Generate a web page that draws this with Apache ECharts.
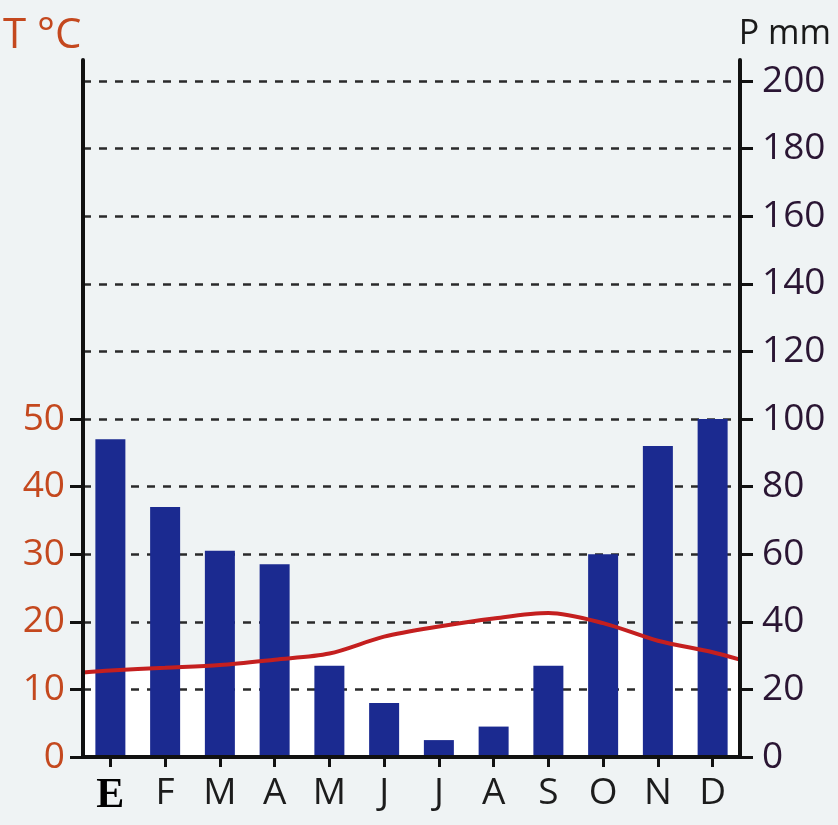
<!DOCTYPE html>
<html><head><meta charset="utf-8">
<script src="https://cdn.jsdelivr.net/npm/echarts@6/dist/echarts.min.js"></script>
<style>html,body{margin:0;padding:0;background:#eff3f4}#c{width:838px;height:825px}</style>
</head><body><div id="c"></div>
<script>
const months = ['E','F','M','A','M','J','J','A','S','O','N','D'];
const precipitation = [94, 74, 61, 57, 27, 16, 5, 9, 27, 60, 92, 100];
const temperature = [12.8, 13.2, 13.6, 14.4, 15.3, 17.8, 19.3, 20.5, 21.3, 19.8, 17.2, 15.5];
const tempEdges = [12.5, 14.4]; // line value read at left and right plot edges
const tempMax = 50;
const precipMax = 200;

const tempLineData = [[-0.5, tempEdges[0]]]
  .concat(temperature.map((v, i) => [i, v]))
  .concat([[11.5, tempEdges[1]]]);

// layout: shared bottom, stacked grids so axis ranges align (50 °C = 100 mm)
const BOTTOM = 68, LEFT = 83, RIGHT = 98;
const TOP_P = 81;
const H_P = 825 - BOTTOM - TOP_P;
const TOP_T = 825 - BOTTOM - H_P / 2;
const TOP_AX = 60;

const FONT = '"Open Sans", "Noto Sans", sans-serif';
const chart = echarts.init(document.getElementById('c'));
chart.setOption({
  backgroundColor: '#eff3f4',
  animation: false,
  title: [
    {text: 'T °C', left: -2, top: 10, textStyle: {fontFamily: FONT, fontSize: 42, fontWeight: 'normal', color: '#c4481e'}},
    {text: 'P mm', right: 2, top: 12, textStyle: {fontFamily: FONT, fontSize: 34, fontWeight: 'normal', color: '#1a1a1a'}}
  ],
  grid: [
    {left: LEFT, right: RIGHT, top: TOP_AX, bottom: BOTTOM},
    {left: LEFT, right: RIGHT, top: TOP_P, bottom: BOTTOM},
    {left: LEFT, right: RIGHT, top: TOP_T, bottom: BOTTOM}
  ],
  xAxis: [
    {gridIndex: 0, type: 'value', show: false},
    {
      gridIndex: 1, type: 'category', data: months, z: 4,
      axisLine: {lineStyle: {color: '#111', width: 4}},
      axisTick: {show: true, alignWithLabel: true, length: 10, lineStyle: {color: '#111', width: 3}},
      axisLabel: {
        interval: 0, margin: 18, fontFamily: FONT, fontSize: 37, color: '#1c1c1c',
        formatter: (v, i) => i === 0 ? '{e|' + v + '}' : v,
        rich: {e: {fontFamily: '"Liberation Serif", "DejaVu Serif", serif', fontWeight: 'bold', fontSize: 42, color: '#000'}}
      }
    },
    {gridIndex: 2, type: 'value', min: -0.5, max: 11.5, show: false}
  ],
  yAxis: [
    {gridIndex: 0, type: 'value', position: 'left', min: 0, max: 1, z: 4,
     axisLine: {show: true, onZero: false, lineStyle: {color: '#111', width: 4}}, axisTick: {show: false}, axisLabel: {show: false}, splitLine: {show: false}},
    {gridIndex: 0, type: 'value', position: 'right', min: 0, max: 1, z: 4,
     axisLine: {show: true, onZero: false, lineStyle: {color: '#111', width: 4}}, axisTick: {show: false}, axisLabel: {show: false}, splitLine: {show: false}},
    {
      gridIndex: 1, type: 'value', position: 'right', min: 0, max: precipMax, interval: 20, z: 1,
      axisLine: {show: true, onZero: false, lineStyle: {color: '#111', width: 4}},
      axisTick: {show: true, length: 13, lineStyle: {color: '#111', width: 3}},
      axisLabel: {margin: 22, fontFamily: FONT, fontSize: 37, color: '#2a1533'},
      splitLine: {show: true, showMinLine: false, lineStyle: {color: '#2a2a2a', width: 2.5, type: [8, 8]}}
    },
    {
      gridIndex: 2, type: 'value', position: 'left', min: 0, max: tempMax, interval: 10,
      axisLine: {show: true, onZero: false, lineStyle: {color: '#111', width: 4}},
      axisTick: {show: true, length: 13, lineStyle: {color: '#111', width: 3}},
      axisLabel: {margin: 18, fontFamily: FONT, fontSize: 37, color: '#c4481e'},
      splitLine: {show: true, lineStyle: {color: 'rgba(0,0,0,0)', width: 1}}
    }
  ],
  series: [
    {
      type: 'line', xAxisIndex: 2, yAxisIndex: 3, data: tempLineData, smooth: 0.3, symbol: 'none', z: 0,
      lineStyle: {width: 0}, areaStyle: {color: '#ffffff', opacity: 1}
    },
    {
      type: 'bar', xAxisIndex: 1, yAxisIndex: 2, data: precipitation, barWidth: 30, z: 2,
      itemStyle: {color: '#1b2a90'}
    },
    {
      type: 'line', xAxisIndex: 2, yAxisIndex: 3, data: tempLineData, smooth: 0.3, symbol: 'none', z: 3,
      lineStyle: {color: '#c41f1f', width: 4}
    }
  ]
});
</script></body></html>
